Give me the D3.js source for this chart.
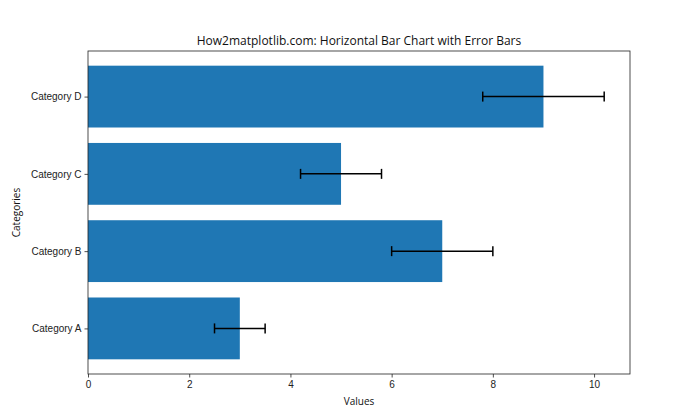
<!DOCTYPE html>
<html><head><meta charset="utf-8">
<script src="https://cdn.jsdelivr.net/npm/d3@7"></script>
<style>body{margin:0;background:#fff}svg{font-family:"Open Sans","Noto Sans",sans-serif}</style>
</head><body><svg id="c" width="700" height="420"></svg>
<script>
const categories = ["Category A","Category B","Category C","Category D"];
const values = [3,7,5,9];
const errors = [0.5,1.0,0.8,1.2];
const xTicks = [0,2,4,6,8,10];

const svg = d3.select("#c");
const L=88,R=630,T=51,B=374;
const xMax = d3.max(values.map((v,i)=>v+errors[i]))*1.05;
const x = d3.scaleLinear().domain([0,xMax]).range([L,R]);
const y = d3.scaleLinear().domain([-0.59,3.59]).range([B,T]);
const bh = y(0)-y(0.8);

svg.selectAll("rect.bar").data(values).join("rect")
  .attr("x",x(0)).attr("y",(d,i)=>y(i+0.4)).attr("width",d=>x(d)-x(0)).attr("height",bh)
  .attr("fill","#1f77b4");

const eb = svg.append("g").attr("stroke","#000").attr("stroke-width",1.5);
values.forEach((v,i)=>{
  const yc=y(i), x1=x(v-errors[i]), x2=x(v+errors[i]);
  eb.append("line").attr("x1",x1).attr("x2",x2).attr("y1",yc).attr("y2",yc);
  eb.append("line").attr("x1",x1).attr("x2",x1).attr("y1",yc-5).attr("y2",yc+5);
  eb.append("line").attr("x1",x2).attr("x2",x2).attr("y1",yc-5).attr("y2",yc+5);
});

const xa = svg.append("g").attr("transform",`translate(0,${B})`)
  .call(d3.axisBottom(x).tickValues(xTicks).tickSize(3.5).tickPadding(3).tickFormat(d3.format("d")));
const ya = svg.append("g").attr("transform",`translate(${L},0)`)
  .call(d3.axisLeft(y).tickValues([0,1,2,3]).tickSize(3.5).tickPadding(3).tickFormat(i=>categories[i]));
[xa,ya].forEach(a=>{a.select(".domain").remove();a.selectAll("text").attr("font-size",10).attr("fill","#222").attr("font-family","inherit");a.selectAll("line").attr("stroke","#222").attr("stroke-width",0.8);});

svg.append("rect").attr("x",L).attr("y",T).attr("width",R-L).attr("height",B-T)
  .attr("fill","none").attr("stroke","#222").attr("stroke-width",0.8);

svg.append("text").attr("x",(L+R)/2).attr("y",45).attr("text-anchor","middle").attr("font-size",12)
  .attr("fill","#111").text("How2matplotlib.com: Horizontal Bar Chart with Error Bars");
svg.append("text").attr("x",(L+R)/2).attr("y",405).attr("text-anchor","middle").attr("font-size",10)
  .attr("fill","#111").text("Values");
svg.append("text").attr("transform",`translate(20,${(T+B)/2}) rotate(-90)`).attr("text-anchor","middle").attr("font-size",10)
  .attr("fill","#111").text("Categories");
</script></body></html>
